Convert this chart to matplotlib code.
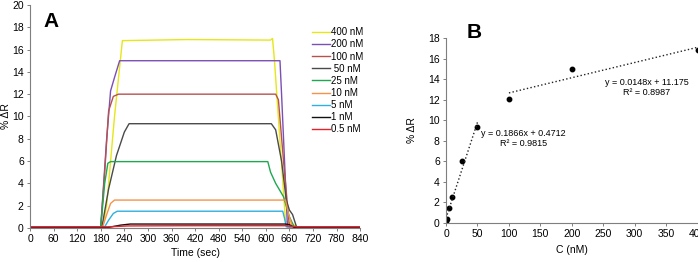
import matplotlib.pyplot as plt
import numpy as np

plt.rcParams['font.family'] = ['Liberation Sans', 'DejaVu Sans']

# Panel A: SPR sensorgrams, key points (time in s, %dR)
labels = ["400 nM", "200 nM", "100 nM", " 50 nM", "25 nM", "10 nM", "5 nM", "1 nM", "0.5 nM"]
colors = ["#e6e61a", "#7b4fb5", "#b5524f", "#4a4a4a", "#1fa84f", "#f5934a", "#2fb0e0", "#111111", "#e8202a"]

t400 = [0, 185, 195, 215, 235, 400, 612, 617, 622, 650, 665, 680, 840]
r400 = [0.1, 0.1, 2.0, 10.0, 16.8, 16.9, 16.85, 17.0, 15.0, 0.6, 0.4, 0.1, 0.1]
t200 = [0, 180, 195, 205, 215, 228, 400, 636, 640, 655, 840]
r200 = [0.1, 0.1, 8.0, 12.3, 13.5, 15.0, 15.0, 15.0, 12.0, 0.1, 0.1]
t100 = [0, 180, 190, 200, 212, 225, 400, 625, 632, 645, 660, 840]
r100 = [0.1, 0.1, 5.0, 10.5, 11.8, 12.0, 12.0, 12.0, 11.5, 6.0, 0.1, 0.1]
t50 = [0, 183, 200, 220, 240, 252, 400, 614, 625, 640, 652, 660, 668, 678, 840]
r50 = [0.1, 0.1, 3.5, 6.5, 8.6, 9.35, 9.35, 9.35, 8.8, 6.0, 2.5, 1.6, 1.2, 0.1, 0.1]
t25 = [0, 180, 190, 198, 205, 400, 605, 612, 625, 645, 660, 672, 840]
r25 = [0.1, 0.1, 4.0, 5.8, 5.95, 5.95, 5.95, 5.0, 4.0, 2.8, 1.0, 0.1, 0.1]
t10 = [0, 185, 195, 205, 215, 400, 650, 658, 668, 840]
r10 = [0.1, 0.1, 1.2, 2.2, 2.5, 2.5, 2.5, 1.2, 0.1, 0.1]
t5 = [0, 190, 200, 212, 222, 400, 643, 648, 652, 840]
r5 = [0.1, 0.1, 0.7, 1.3, 1.5, 1.5, 1.5, 0.8, 0.1, 0.1]
t1 = [0, 200, 230, 255, 400, 650, 660, 672, 840]
r1 = [0.05, 0.05, 0.25, 0.35, 0.35, 0.35, 0.3, 0.05, 0.05]
t05 = [0, 200, 250, 400, 650, 665, 680, 840]
r05 = [0.1, 0.1, 0.18, 0.2, 0.2, 0.15, 0.1, 0.1]

times = [t400, t200, t100, t50, t25, t10, t5, t1, t05]
resp = [r400, r200, r100, r50, r25, r10, r5, r1, r05]

# Panel B: calibration
conc = [0.5, 1, 5, 10, 25, 50, 100, 200, 400]
dR = [0.2, 0.35, 1.5, 2.55, 6.0, 9.35, 12.1, 15.0, 16.8]
fit1 = (0.1866, 0.4712, 0.9815)
fit2 = (0.0148, 11.175, 0.8987)

fig = plt.figure(figsize=(6.98, 2.62), dpi=100)
axc = "#7f7f7f"
tfs = 7.5

# --- panel A
ax = fig.add_axes([0.043, 0.130, 0.473, 0.851])
for t, r, c, lab in zip(times, resp, colors, labels):
    ax.plot(t, r, color=c, lw=1.0, label=lab)
ax.set_xlim(0, 840)
ax.set_ylim(0, 20)
ax.set_xticks(np.arange(0, 841, 60))
ax.set_yticks(np.arange(0, 21, 2))
for s in ["top", "right"]:
    ax.spines[s].set_visible(False)
for s in ["left", "bottom"]:
    ax.spines[s].set_color(axc)
    ax.spines[s].set_linewidth(0.8)
ax.tick_params(labelsize=tfs, length=2.5, width=0.7, color=axc, pad=2)
ax.set_xlabel("Time (sec)", fontsize=7.5, labelpad=3)
ax.set_ylabel("% ΔR", fontsize=7.5, labelpad=1)
ax.text(0.04, 0.97, "A", transform=ax.transAxes, fontsize=15, fontweight="bold", va="top")
ax.legend(loc="upper left", bbox_to_anchor=(0.855, 0.90), frameon=False, fontsize=7,
          handlelength=1.8, handletextpad=0.1, labelspacing=0.22, borderaxespad=0,
          borderpad=0)

# --- panel B
bx = fig.add_axes([0.639, 0.149, 0.3605, 0.706])
bx.plot(conc, dR, "o", color="black", ms=3.2)
x1 = np.array([0, 50])
x2 = np.array([100, 400])
bx.plot(x1, fit1[0] * x1 + fit1[1], ":", color="#222222", lw=1.0)
bx.plot(x2, fit2[0] * x2 + fit2[1], ":", color="#222222", lw=1.0)
bx.text(123, 8.2, "y = %.4fx + %.4f\nR² = %.4f" % fit1, fontsize=6.5, ha="center", va="center",
        linespacing=1.1)
bx.text(319, 13.2, "y = %.4fx + %.3f\nR² = %.4f" % fit2, fontsize=6.5, ha="center", va="center",
        linespacing=1.1)
bx.set_xlim(0, 400)
bx.set_ylim(0, 18)
bx.set_xticks(np.arange(0, 401, 50))
bx.set_yticks(np.arange(0, 19, 2))
for s in ["top", "right"]:
    bx.spines[s].set_visible(False)
for s in ["left", "bottom"]:
    bx.spines[s].set_color(axc)
    bx.spines[s].set_linewidth(0.8)
bx.tick_params(labelsize=tfs, length=2.5, width=0.7, color=axc, pad=2)
bx.set_xlabel("C (nM)", fontsize=7.5, labelpad=4)
bx.set_ylabel("% ΔR", fontsize=7.5, labelpad=8)
bx.text(0.08, 1.08, "B", transform=bx.transAxes, fontsize=15, fontweight="bold", va="top")

fig.savefig("out.png", dpi=100)
